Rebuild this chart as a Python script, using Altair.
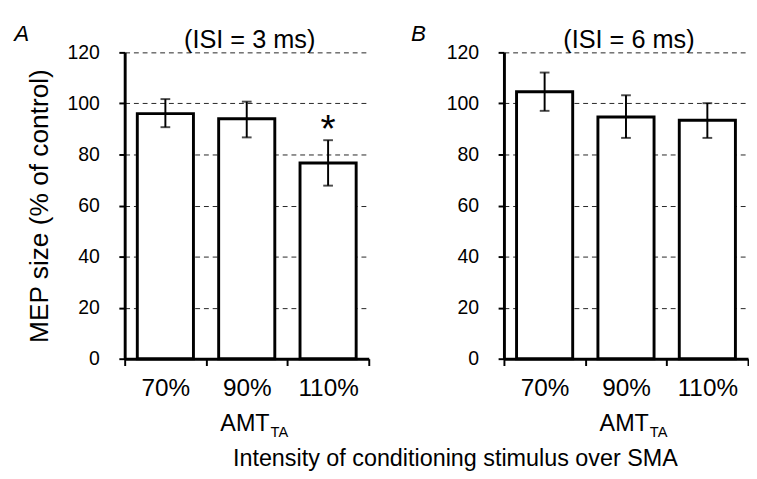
import altair as alt
import pandas as pd

categories = ["70%", "90%", "110%"]

a_mean = [96.0, 94.0, 76.7]
a_lo = [90.7, 86.7, 67.8]
a_hi = [101.7, 100.7, 85.6]
a_star = ["", "", "*"]

b_mean = [104.6, 94.7, 93.4]
b_lo = [97.1, 86.5, 86.5]
b_hi = [112.1, 103.2, 100.1]
b_star = ["", "", ""]

panel_titles = ["(ISI = 3 ms)", "(ISI = 6 ms)"]
panel_letters = ["A", "B"]
y_ticks = [0, 20, 40, 60, 80, 100, 120]
y_title = "MEP size (% of control)"
x_main = "AMT"
x_sub = "TA"
bottom_title = "Intensity of conditioning stimulus over SMA"

W = 251
H = 315
FONT = "Liberation Sans"


def panel(mean, lo, hi, star, title, letter, letter_x, show_ytitle):
    df = pd.DataFrame({"cat": categories, "mean": mean, "lo": lo, "hi": hi, "star": star})
    base = alt.Chart(df)
    xenc = alt.X(
        "cat:N",
        sort=categories,
        scale=alt.Scale(paddingInner=0, paddingOuter=0),
        axis=alt.Axis(
            title=None,
            labelAngle=0,
            tickBand="extent",
            tickSize=7,
            tickWidth=2,
            tickColor="black",
            domainWidth=3,
            domainColor="black",
            labelFontSize=25,
            labelColor="black",
            labelPadding=11,
            grid=False,
        ),
    )
    yaxis = alt.Axis(
        values=y_ticks,
        title=y_title if show_ytitle else None,
        titleFontSize=27,
        titleFontWeight="normal",
        titleColor="black",
        titlePadding=14,
        labelFontSize=20,
        labelColor="black",
        labelPadding=20,
        tickSize=6,
        tickWidth=2,
        tickColor="black",
        domainWidth=3,
        domainColor="black",
        grid=True,
        gridDash=[5, 4],
        gridColor="#222222",
        gridWidth=1,
    )
    yenc = alt.Y("mean:Q", scale=alt.Scale(domain=[0, 120], nice=False), axis=yaxis)

    bars = base.mark_bar(
        fill="white", stroke="black", strokeWidth=3, width=alt.RelativeBandSize(0.69)
    ).encode(x=xenc, y=yenc)
    rule = base.mark_rule(color="black", strokeWidth=2).encode(
        x=alt.X("cat:N", sort=categories), y="lo:Q", y2="hi:Q"
    )
    tick_hi = base.mark_tick(color="black", size=10, thickness=2).encode(
        x=alt.X("cat:N", sort=categories), y="hi:Q"
    )
    tick_lo = base.mark_tick(color="black", size=10, thickness=2).encode(
        x=alt.X("cat:N", sort=categories), y="lo:Q"
    )
    stars = base.mark_text(
        fontSize=40, baseline="alphabetic", dy=2, color="black", font=FONT
    ).encode(x=alt.X("cat:N", sort=categories), y="hi:Q", text="star:N")

    lab = pd.DataFrame({"t": [letter]})
    letter_mark = alt.Chart(lab).mark_text(
        fontSize=23, fontStyle="italic", align="center", baseline="alphabetic", color="black", font=FONT
    ).encode(x=alt.value(letter_x), y=alt.value(-12), text="t:N")

    ttl = pd.DataFrame({"t": [title]})
    title_mark = alt.Chart(ttl).mark_text(
        fontSize=26, align="center", baseline="alphabetic", color="black", font=FONT
    ).encode(x=alt.value(W / 2 + 3), y=alt.value(-4), text="t:N")

    xm = pd.DataFrame({"t": [x_main]})
    xs = pd.DataFrame({"t": [x_sub]})
    amt = alt.Chart(xm).mark_text(
        fontSize=24, align="right", baseline="alphabetic", color="black", font=FONT
    ).encode(x=alt.value(149), y=alt.value(389), text="t:N")
    ta = alt.Chart(xs).mark_text(
        fontSize=15, align="left", baseline="alphabetic", color="black", font=FONT
    ).encode(x=alt.value(150), y=alt.value(395), text="t:N")

    return alt.layer(bars, rule, tick_hi, tick_lo, stars, letter_mark, title_mark, amt, ta).properties(
        width=W,
        height=H,
    )


pa = panel(a_mean, a_lo, a_hi, a_star, panel_titles[0], panel_letters[0], -106, True)
pb = panel(b_mean, b_lo, b_hi, b_star, panel_titles[1], panel_letters[1], -88, False)

chart = (
    alt.hconcat(pa, pb, spacing=42)
    .properties(
        title=alt.TitleParams(
            bottom_title, orient="bottom", fontSize=24, fontWeight="normal", color="black", dx=225, offset=8, font=FONT
        ),
        padding={"left": 6, "top": 9, "right": 0, "bottom": 0},
    )
    .configure(font=FONT)
    .configure_view(stroke=None)
)

chart.save("out.html", embed_options={"renderer": "svg", "actions": False})
